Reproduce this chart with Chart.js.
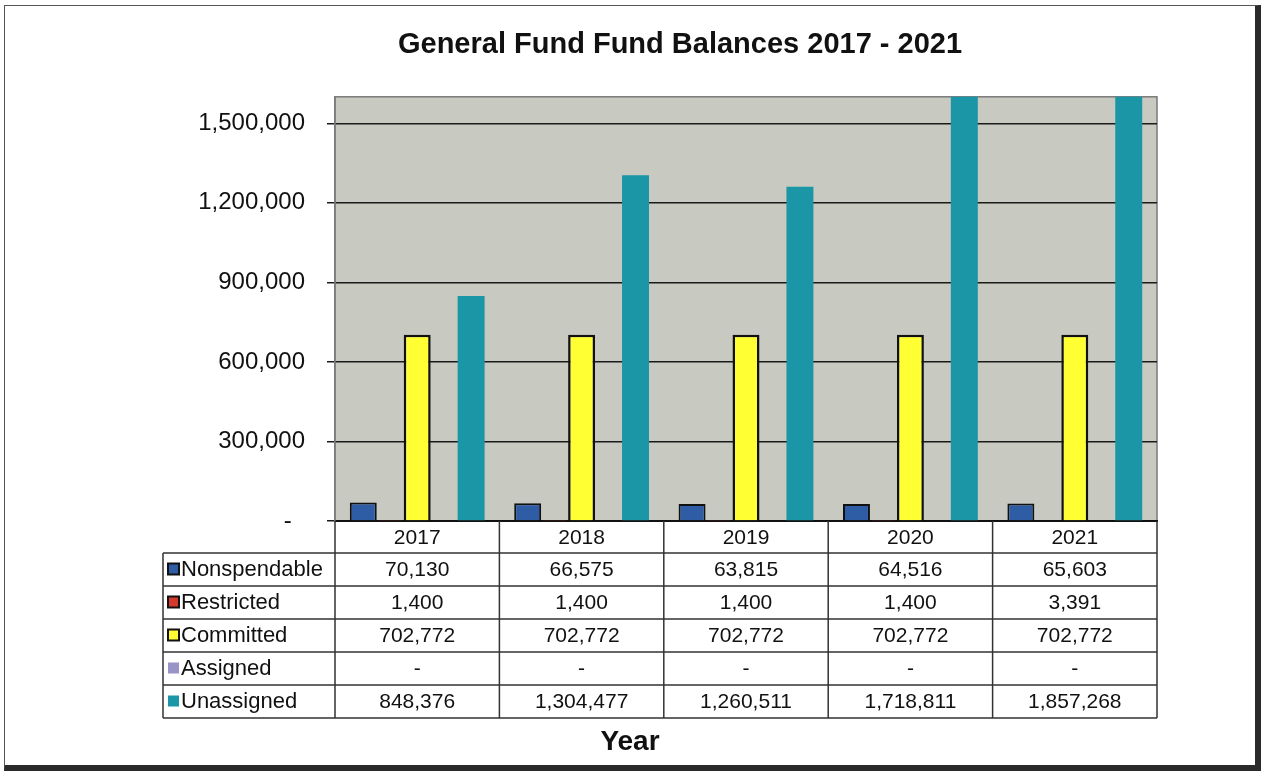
<!DOCTYPE html>
<html>
<head>
<meta charset="utf-8">
<title>General Fund Fund Balances 2017 - 2021</title>
<script src="https://cdn.jsdelivr.net/npm/chart.js@4.4.1/dist/chart.umd.min.js"></script>
<style>
    html, body {
        margin: 0;
        padding: 0;
        background: #ffffff;
    }

    #wrap {
        position: relative;
        width: 1264px;
        height: 775px;
        overflow: hidden;
    }

    #frame {
        position: absolute;
        left: 4px;
        top: 5px;
        width: 1250px;
        height: 759px;
        border-left: 1.5px solid #555;
        border-top: 1.5px solid #555;
        border-right: 6px solid #2a2a2a;
        border-bottom: 6px solid #2a2a2a;
    }

    #chartBox {
        position: absolute;
        left: 0;
        top: 0;
        width: 1264px;
        height: 775px;
    }
</style>
</head>
<body>

<div id="wrap">
    <div id="frame"></div>
    <div id="chartBox">
        <canvas id="fundChart"></canvas>
    </div>
</div>

<script>

const years = ["2017", "2018", "2019", "2020", "2021"];

const nonspendable = [70130, 66575, 63815, 64516, 65603];
const restricted = [1400, 1400, 1400, 1400, 3391];
const committed = [702772, 702772, 702772, 702772, 702772];
const assigned = [0, 0, 0, 0, 0];
const unassigned = [848376, 1304477, 1260511, 1718811, 1857268];

const seriesNames = ["Nonspendable", "Restricted", "Committed", "Assigned", "Unassigned"];

const yTickValues = [0, 300000, 600000, 900000, 1200000, 1500000];
const yMax = 1600000;

const FONT = "'Liberation Sans', Arial, sans-serif";

function fmt(v){

    if(v === 0){

        return "-";

    }

    return v.toLocaleString("en-US");

}

// plot background and its thin grey outline
const plotBackground = {

    id: "plotBackground",

    beforeDraw(chart){

        const {ctx, chartArea} = chart;

        ctx.save();

        ctx.fillStyle = "#c8c9c1";

        ctx.fillRect(chartArea.left, chartArea.top,
            chartArea.right - chartArea.left,
            chartArea.bottom - chartArea.top);

        ctx.strokeStyle = "#7a7a7a";

        ctx.lineWidth = 1.5;

        ctx.strokeRect(chartArea.left, chartArea.top,
            chartArea.right - chartArea.left,
            chartArea.bottom - chartArea.top);

        ctx.restore();

    }

};

// data table under the x axis, plus the "Year" caption
const dataTable = {

    id: "dataTable",

    afterDraw(chart){

        const {ctx, chartArea} = chart;

        const xScale = chart.scales.x;

        const rowH = 33;

        const headTop = chartArea.bottom;

        const tableTop = headTop + 32;

        const tableBottom = tableTop + rowH * seriesNames.length;

        const tableLeft = 163;

        const colW = (chartArea.right - chartArea.left) / years.length;

        ctx.save();

        ctx.strokeStyle = "#333333";

        ctx.lineWidth = 1.5;

        ctx.beginPath();

        // horizontal rules
        for(let r = 0; r <= seriesNames.length; r++){

            const y = tableTop + r * rowH;

            ctx.moveTo(tableLeft, y);

            ctx.lineTo(chartArea.right, y);

        }

        // left edge of legend column
        ctx.moveTo(tableLeft, tableTop);

        ctx.lineTo(tableLeft, tableBottom);

        // year column edges
        for(let c = 0; c <= years.length; c++){

            const x = chartArea.left + c * colW;

            ctx.moveTo(x, headTop);

            ctx.lineTo(x, tableBottom);

        }

        ctx.stroke();

        ctx.textBaseline = "middle";

        chart.data.datasets.forEach((ds, r) => {

            const cy = tableTop + r * rowH + rowH / 2;

            // legend key
            ctx.fillStyle = ds.backgroundColor;

            ctx.fillRect(168, cy - 6, 11, 11);

            if(ds.borderWidth > 0){

                ctx.strokeStyle = "#111111";

                ctx.lineWidth = 2;

                ctx.strokeRect(168, cy - 6, 11, 11);

            }

            ctx.fillStyle = "#111111";

            ctx.font = "22px " + FONT;

            ctx.textAlign = "left";

            ctx.fillText(ds.label, 181, cy);

            // values
            ctx.font = "21px " + FONT;

            ctx.textAlign = "center";

            ds.data.forEach((v, i) => {

                ctx.fillText(fmt(v), xScale.getPixelForValue(i), cy + 1);

            });

        });

        ctx.font = "bold 28px " + FONT;

        ctx.textAlign = "center";

        ctx.fillText("Year", 630, tableBottom + 24);

        ctx.restore();

    }

};

const ctx = document
    .getElementById("fundChart")
    .getContext("2d");

const fundChart = new Chart(ctx, {

    type: "bar",

    data: {

        labels: years,

        datasets: [

            {
                label: seriesNames[0],
                data: nonspendable,
                backgroundColor: "#2e5da6",
                borderColor: "#111111",
                borderWidth: 2
            },

            {
                label: seriesNames[1],
                data: restricted,
                backgroundColor: "#d43a2c",
                borderColor: "#111111",
                borderWidth: 2
            },

            {
                label: seriesNames[2],
                data: committed,
                backgroundColor: "#ffff33",
                borderColor: "#111111",
                borderWidth: 2.5
            },

            {
                label: seriesNames[3],
                data: assigned,
                backgroundColor: "#9a93c8",
                borderWidth: 0
            },

            {
                label: seriesNames[4],
                data: unassigned,
                backgroundColor: "#1a96a7",
                borderWidth: 0
            }

        ]

    },

    options: {

        responsive: true,

        maintainAspectRatio: false,

        animation: false,

        layout: {

            padding: {
                left: 183,
                right: 87,
                top: 0,
                bottom: 222
            }

        },

        datasets: {

            bar: {
                categoryPercentage: 0.82,
                barPercentage: 1.0
            }

        },

        plugins: {

            legend: {
                display: false
            },

            tooltip: {
                enabled: false
            },

            title: {
                display: true,
                text: "General Fund Fund Balances 2017 - 2021",
                color: "#111111",
                font: {
                    family: FONT,
                    size: 29,
                    weight: "bold"
                },
                padding: {
                    top: 28,
                    bottom: 34
                }
            }

        },

        scales: {

            x: {

                grid: {
                    display: false,
                    drawTicks: false
                },

                border: {
                    display: true,
                    color: "#111111",
                    width: 2
                },

                ticks: {
                    color: "#111111",
                    padding: 5,
                    font: {
                        family: FONT,
                        size: 21
                    }
                },

                afterFit(scale){

                    scale.height = 32;

                }

            },

            y: {

                min: 0,

                max: yMax,

                grid: {
                    color: "#1a1a1a",
                    lineWidth: 1.5,
                    tickLength: 8
                },

                border: {
                    display: true,
                    color: "#7a7a7a",
                    width: 1.5
                },

                ticks: {
                    color: "#111111",
                    padding: 22,
                    font: {
                        family: FONT,
                        size: 24
                    },
                    callback: function(value){

                        return value === 0 ? "-  " : fmt(value);

                    }
                },

                afterBuildTicks(scale){

                    scale.ticks = yTickValues.map(v => ({value: v}));

                },

                afterFit(scale){

                    scale.width = 152;

                }

            },

            // empty right-hand margin so the title sits where it should
            yRight: {

                position: "right",

                grid: {
                    display: false
                },

                border: {
                    display: false
                },

                ticks: {
                    display: false
                },

                afterFit(scale){

                    scale.width = 20;

                }

            }

        }

    },

    plugins: [plotBackground, dataTable]

});

</script>

</body>
</html>
